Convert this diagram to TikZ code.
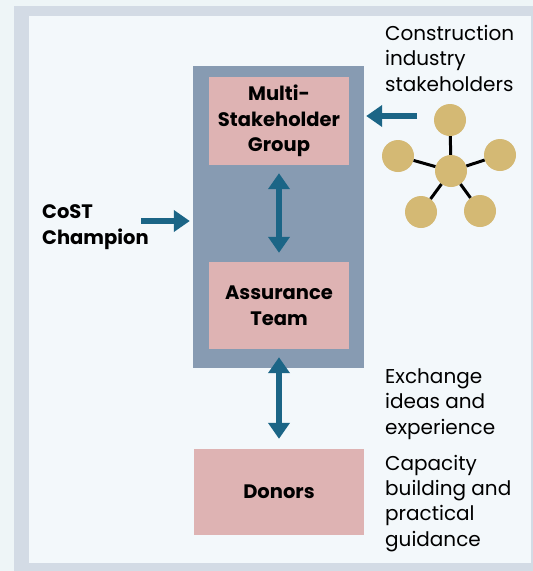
\documentclass[tikz,border=0pt]{standalone}
\usepackage{fontspec}
\setmainfont{Poppins}
\usepackage{xcolor}
\usetikzlibrary{arrows.meta}

\definecolor{pagebg}{HTML}{EEF5F7}
\definecolor{framegray}{HTML}{D3DBE5}
\definecolor{innerbg}{HTML}{F3F8FB}
\definecolor{panelblue}{HTML}{879BB2}
\definecolor{rosebox}{HTML}{DEB3B3}
\definecolor{flowblue}{HTML}{1B6586}
\definecolor{dotgold}{HTML}{D4B974}

\begin{document}
\begin{tikzpicture}[x=1pt,y=1pt,yscale=-1,xscale=1,
  rosenode/.style={fill=rosebox, inner sep=0, align=center, font=\bfseries\fontsize{19.5}{25.5}\selectfont},
  note/.style={anchor=base west, inner sep=0, align=left, font=\fontsize{20}{25.3}\selectfont},
  dot/.style={circle, fill=dotgold, minimum size=32, inner sep=0},
  flow/.style={draw=flowblue, line width=5.5, -{Triangle[width=21pt,length=16pt]}},
  dflow/.style={draw=flowblue, line width=5.5, {Triangle[width=21pt,length=16pt]}-{Triangle[width=21pt,length=16pt]}}]

\useasboundingbox (0,0) rectangle (533,571);
\fill[pagebg] (0,0) rectangle (533,571);
\fill[framegray] (14,6) rectangle (533,571);
\fill[innerbg] (29,16) rectangle (531,563);

\node (panel) at (278.5,217) [fill=panelblue, minimum width=171, minimum height=302, inner sep=0] {};
\node (msg) at (279,121) [rosenode, minimum width=140, minimum height=88] {Multi-\\Stakeholder\\Group};
\node (at) at (279,305.5) [rosenode, minimum width=140, minimum height=87] {Assurance\\Team};
\node (donors) at (279,492) [rosenode, minimum width=170, minimum height=86] {Donors};

\node (champ) at (42,244) [note, font=\bfseries\fontsize{19.5}{25.5}\selectfont] {CoST\\Champion};
\node (indus) at (385,91) [note] {Construction\\industry\\stakeholders};
\node (exch) at (385,434) [note] {Exchange\\ideas and\\experience};
\node (capa) at (385,546) [note] {Capacity\\building and\\practical\\guidance};

\node (hub) at (451,171) [dot] {};
\node (d1) at (450,120) [dot] {};
\node (d2) at (398,156) [dot] {};
\node (d3) at (500,155) [dot] {};
\node (d4) at (421,212) [dot] {};
\node (d5) at (480,211) [dot] {};
\foreach \d in {d1,d2,d3,d4,d5}
  \draw[line width=3] (hub) -- (\d);

\coordinate (sh) at (417,116);
\coordinate (cs) at (141,221);
\draw[flow, shorten >=2] (sh) -- (sh -| panel.east);
\draw[flow, shorten >=3] (cs) -- (cs -| panel.west);
\draw[dflow, shorten <=8, shorten >=9] (msg) -- (at);
\draw[dflow, shorten <=8, shorten >=10] (at) -- (donors);
\end{tikzpicture}
\end{document}
